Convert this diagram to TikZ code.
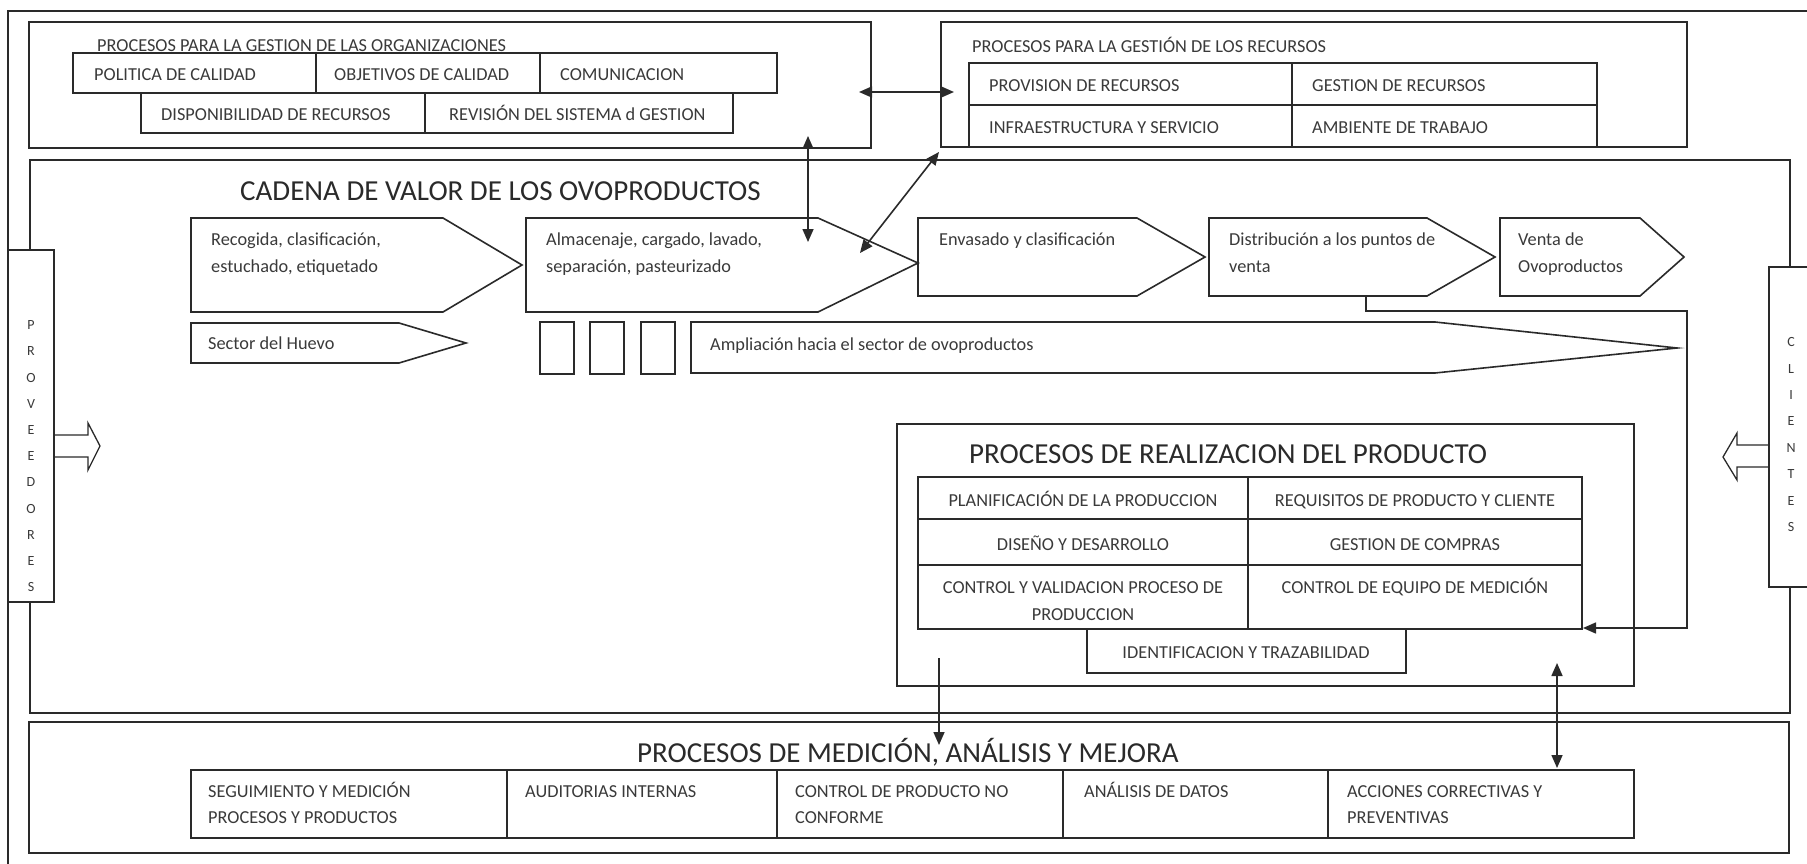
\documentclass[tikz,border=0pt]{standalone}
\usepackage{fontspec}
\setmainfont{Carlito}
\usetikzlibrary{arrows.meta}
\definecolor{ink}{HTML}{2A2A2A}
\definecolor{txtc}{HTML}{3A3A3A}
\tikzset{
  ln/.style={line width=1.6pt, draw=ink},
  txt/.style={inner sep=0pt, anchor=base west, font=\fontsize{18.3}{27}\selectfont, text=txtc},
  ctxt/.style={txt, anchor=base},
  ttl/.style={inner sep=0pt, anchor=base west, font=\fontsize{29}{34}\selectfont, text=ink},
  vlet/.style={inner sep=0pt, anchor=north, align=center, text=txtc},
  tip/.style={Triangle[length=13pt,width=11pt]},
  arr/.style={ln, -{Triangle[length=13pt,width=11pt]}},
  darr/.style={ln, {Triangle[length=13pt,width=11pt]}-{Triangle[length=13pt,width=11pt]}},
}
\begin{document}
\begin{tikzpicture}[x=1pt,y=-1pt]
\useasboundingbox (0,0) rectangle (1807,864);
\clip (0,0) rectangle (1807,864);
\fill[white] (0,0) rectangle (1807,864);
% outer frame
\draw[ln] (8,11) rectangle (1830,880);

% ===== top-left box
\draw[ln] (29,22) rectangle (871,148);
\node[txt] (h1) at (97,52) {PROCESOS PARA LA GESTION DE LAS ORGANIZACIONES};
\draw[ln] (73,53) rectangle (316,93) (316,53) rectangle (540,93) (540,53) rectangle (777,93);
\draw[ln] (141,93) rectangle (425,133) (425,93) rectangle (733,133);
\node[txt] (a1) at (94,81) {POLITICA DE CALIDAD};
\node[txt] (a2) at (334,81) {OBJETIVOS DE CALIDAD};
\node[txt] (a3) at (560,81) {COMUNICACION};
\node[txt] (a4) at (161,121) {DISPONIBILIDAD DE RECURSOS};
\node[txt] (a5) at (449,121) {REVISIÓN DEL SISTEMA d GESTION};

% ===== top-right box
\draw[ln] (941,22) rectangle (1687,147);
\node[txt] (h2) at (972,53) {PROCESOS PARA LA GESTIÓN DE LOS RECURSOS};
\draw[ln] (969,63) rectangle (1292,105) (1292,63) rectangle (1597,105);
\draw[ln] (969,105) rectangle (1292,147) (1292,105) rectangle (1597,147);
\node[txt] (b1) at (989,92) {PROVISION DE RECURSOS};
\node[txt] (b2) at (1312,92) {GESTION DE  RECURSOS};
\node[txt] (b3) at (989,134) {INFRAESTRUCTURA Y SERVICIO};
\node[txt] (b4) at (1312,134) {AMBIENTE DE TRABAJO};

% ===== value chain box
\draw[ln] (30,160) rectangle (1790,713);
\node[ttl] (h3) at (240,200) {CADENA DE VALOR DE LOS OVOPRODUCTOS};

\draw[ln] (191,218) -- (443,218) -- (522,265) -- (443,312) -- (191,312) -- cycle;
\node[txt] (c1) at (211,245) {Recogida, clasificación,};
\node[txt] (c1b) at (211,272) {estuchado, etiquetado};

\draw[ln] (526,218) -- (818,218) -- (918,263) -- (818,312) -- (526,312) -- cycle;
\node[txt] (c2) at (546,245) {Almacenaje, cargado, lavado,};
\node[txt] (c2b) at (546,272) {separación, pasteurizado};

\draw[ln] (918,218) -- (1137,218) -- (1205,257) -- (1137,296) -- (918,296) -- cycle;
\node[txt] (c3) at (939,245) {Envasado y clasificación};

\draw[ln] (1209,218) -- (1427,218) -- (1495,257) -- (1427,296) -- (1209,296) -- cycle;
\node[txt] (c4) at (1229,245) {Distribución a los puntos de};
\node[txt] (c4b) at (1229,272) {venta};

\draw[ln] (1500,218) -- (1640,218) -- (1684,257) -- (1640,296) -- (1500,296) -- cycle;
\node[txt] (c5) at (1518,245) {Venta de};
\node[txt] (c5b) at (1518,272) {Ovoproductos};

\draw[ln] (191,323) -- (399,323) -- (466,343) -- (399,363) -- (191,363) -- cycle;
\node[txt] (c6) at (208,349) {Sector del Huevo};

\draw[ln] (540,322) rectangle (574,374) (590,322) rectangle (624,374) (641,322) rectangle (675,374);

\draw[ln] (691,322) -- (1435,322) -- (1677,348) -- (1435,373) -- (691,373) -- cycle;
\node[txt] (c7) at (710,350) {Ampliación hacia el sector de ovoproductos};

% ===== suppliers / clients
\draw[ln, fill=white] (8,250) rectangle (54,602);
\node[vlet, font=\fontsize{14}{26.2}\selectfont] (prov) at (31,320.5) {P\\R\\O\\V\\E\\E\\D\\O\\R\\E\\S};
\draw[ln, line width=1.3pt] (54,435) -- (88,435) -- (88,423) -- (100,446) -- (88,470) -- (88,457) -- (54,457);

\draw[ln, fill=white] (1769,267) rectangle (1813,587);
\node[vlet, font=\fontsize{14}{26.4}\selectfont] (cli) at (1791,337.5) {C\\L\\I\\E\\N\\T\\E\\S};
\draw[ln, line width=1.3pt] (1769,445) -- (1737,445) -- (1737,433) -- (1723,457) -- (1737,480) -- (1737,467) -- (1769,467);

% ===== product realisation box
\draw[ln] (897,424) rectangle (1634,686);
\node[ttl] (h4) at (969,463) {PROCESOS DE REALIZACION DEL PRODUCTO};
\draw[ln] (918,477) rectangle (1248,519) (1248,477) rectangle (1582,519);
\draw[ln] (918,519) rectangle (1248,565) (1248,519) rectangle (1582,565);
\draw[ln] (918,565) rectangle (1248,629) (1248,565) rectangle (1582,629);
\draw[ln] (1087,629) rectangle (1406,673);
\node[ctxt] (d1) at (1083,506) {PLANIFICACIÓN DE LA PRODUCCION};
\node[ctxt] (d2) at (1415,506) {REQUISITOS DE PRODUCTO Y CLIENTE};
\node[ctxt] (d3) at (1083,550) {DISEÑO Y DESARROLLO};
\node[ctxt] (d4) at (1415,550) {GESTION DE COMPRAS};
\node[ctxt] (d5) at (1083,593) {CONTROL Y VALIDACION PROCESO DE};
\node[ctxt] (d5b) at (1083,620) {PRODUCCION};
\node[ctxt] (d6) at (1415,593) {CONTROL DE EQUIPO DE MEDICIÓN};
\node[ctxt] (d7) at (1246,658) {IDENTIFICACION Y TRAZABILIDAD};

% ===== measurement box
\draw[ln] (29,722) rectangle (1789,853);
\node[ttl] (h5) at (637,762) {PROCESOS DE MEDICIÓN, ANÁLISIS Y MEJORA};
\draw[ln] (191,770) rectangle (507,838) (507,770) rectangle (777,838) (777,770) rectangle (1063,838)
          (1063,770) rectangle (1328,838) (1328,770) rectangle (1634,838);
\node[txt] (e1) at (208,797) {SEGUIMIENTO Y MEDICIÓN};
\node[txt] (e1b) at (208,823) {PROCESOS Y PRODUCTOS};
\node[txt] (e2) at (525,797) {AUDITORIAS INTERNAS};
\node[txt] (e3) at (795,797) {CONTROL DE PRODUCTO NO};
\node[txt] (e3b) at (795,823) {CONFORME};
\node[txt] (e4) at (1084,797) {ANÁLISIS DE DATOS};
\node[txt] (e5) at (1347,797) {ACCIONES CORRECTIVAS Y};
\node[txt] (e5b) at (1347,823) {PREVENTIVAS};

% ===== connectors
\coordinate (pL) at (859,92);  \coordinate (pR) at (954,92);
\coordinate (vT) at (808,136); \coordinate (vB) at (808,242);
\coordinate (gT) at (939,152); \coordinate (gB) at (860,253);
\coordinate (dS) at (1366,296); \coordinate (dE) at (1583,628);
\coordinate (mT) at (939,658); \coordinate (mB) at (939,745);
\coordinate (aT) at (1557,663); \coordinate (aB) at (1557,768);
\draw[darr] (pL) -- (pR);
\draw[darr] (vT) -- (vB);
\draw[darr] (gT) -- (gB);
\draw[arr] (dS) -- (1366,311) -- (1687,311) -- (1687,628) -- (dE);
\draw[arr] (mT) -- (mB);
\draw[darr] (aT) -- (aB);
\end{tikzpicture}
\end{document}
